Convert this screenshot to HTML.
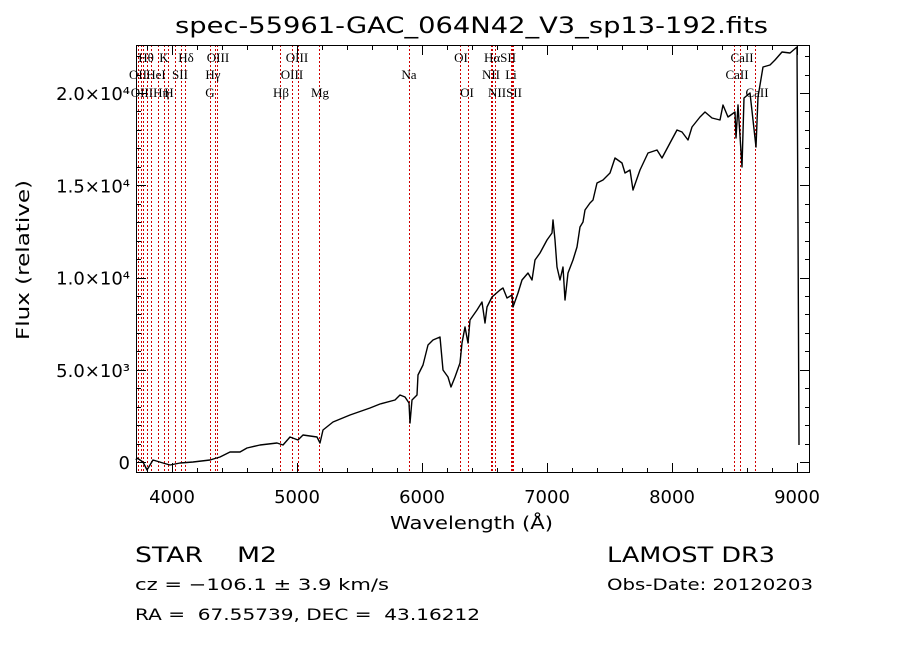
<!DOCTYPE html>
<html><head><meta charset="utf-8"><style>
html,body{margin:0;padding:0;background:#fff;}
svg text{font-family:"DejaVu Sans","Liberation Sans",sans-serif;fill:#000;white-space:pre;}
.ser{font-family:"Liberation Serif","DejaVu Serif",serif;}
</style></head><body>
<svg id="chart" width="900" height="649" viewBox="0 0 900 649" xmlns="http://www.w3.org/2000/svg" xml:space="preserve">
<rect width="900" height="649" fill="#fff"/>
<text x="175" y="33" font-size="22" textLength="593" lengthAdjust="spacingAndGlyphs">spec-55961-GAC_064N42_V3_sp13-192.fits</text>
<g id="lines"></g>
<g id="labels"></g>
<polyline id="spec" fill="none" stroke="#000" stroke-width="1.4" stroke-linejoin="round"/>
<rect x="136.5" y="45.5" width="673" height="427" fill="none" stroke="#000" stroke-width="1"/>
<g id="axes"></g>
<text x="390" y="529" font-size="18" textLength="163" lengthAdjust="spacingAndGlyphs">Wavelength (Å)</text>
<text transform="translate(29,340) rotate(-90)" font-size="18" textLength="160" lengthAdjust="spacingAndGlyphs">Flux (relative)</text>
<text x="135" y="562" font-size="21" textLength="142" lengthAdjust="spacingAndGlyphs">STAR    M2</text>
<text x="607" y="562" font-size="21" textLength="168" lengthAdjust="spacingAndGlyphs">LAMOST DR3</text>
<text x="135" y="590" font-size="16" textLength="254" lengthAdjust="spacingAndGlyphs">cz = −106.1 ± 3.9 km/s</text>
<text x="607" y="590" font-size="16" textLength="206" lengthAdjust="spacingAndGlyphs">Obs-Date: 20120203</text>
<text x="135" y="620" font-size="16" textLength="345" lengthAdjust="spacingAndGlyphs">RA =  67.55739, DEC =  43.16212</text>
</svg>
<script>
const wavelengths=[3712,3720,3768,3800,3848,3928,3984,4064,4168,4304,4384,4464,4544,4600,4704,4840,4888,4944,5008,5048,5160,5184,5208,5288,5424,5584,5664,5784,5824,5864,5896,5904,5920,5960,5968,6008,6048,6088,6144,6168,6208,6232,6264,6304,6320,6344,6368,6384,6440,6480,6504,6520,6560,6624,6648,6680,6720,6728,6768,6800,6848,6880,6904,6944,7000,7040,7048,7064,7080,7104,7128,7144,7168,7208,7240,7264,7288,7304,7344,7368,7400,7448,7504,7544,7600,7624,7664,7688,7744,7808,7880,7920,7984,8040,8080,8128,8160,8224,8264,8320,8384,8408,8448,8504,8512,8528,8560,8576,8624,8672,8688,8728,8784,8824,8880,8944,9000,9008,9016];
const fluxes=[108,217,0,-434,108,-54,-163,-54,0,108,271,542,542,759,921,1030,921,1355,1192,1463,1355,1030,1734,2168,2547,2927,3144,3360,3631,3523,3198,2114,3360,3631,4715,5257,6341,6612,6775,4986,4607,4065,4607,5366,6450,7317,6450,7696,8238,8672,7534,8401,8943,9322,9431,8889,9051,8401,9160,9864,10244,9864,10948,11328,12032,12412,13116,12032,10569,9864,10569,8780,10244,10948,11653,12737,13008,13658,14038,14200,15122,15284,15664,16477,16206,15664,15826,14742,15826,16748,16910,16477,17290,17994,17886,17452,18157,18699,18970,18645,18536,19349,18699,18970,17561,19349,15989,19729,20000,17073,19783,21409,21517,21788,22222,22168,22493,12737,921];
const lineWaves=[3727,3750,3771,3797,3835,3889,3934,3969,4026,4072,4102,4305,4341,4363,4861,4959,5007,5175,5894,6300,6364,6548,6563,6583,6708,6716,6731,8498,8542,8662];
const lineLabels=[["Hθ",146,57],["K",164,57],["Hδ",186,57],["OIII",218,57],["OIII",297,57],["OI",461,57],["HαSII",500,57],["CaII",742,57],
["OII",138,74],["HeI",156,74],["SII",180,74],["Hγ",213,74],["OIII",292,74],["Na",409,74],["NII",491,74],["Li",511,74],["CaII",737,74],
["OIIIHη",150,92],["H",169,92],["G",210,92],["Hβ",281,92],["Mg",320,92],["OI",467,92],["NIISII",505,92],["CaII",757,92]];
const xTicks=[4000,5000,6000,7000,8000,9000];
const yTicks=[0,5000,10000,15000,20000];
const yTickLabels=["0","5.0×10³","1.0×10⁴","1.5×10⁴","2.0×10⁴"];
const X0=136,X1=810,Y0=45,Y1=473;
const xs=w=>172+(w-4000)*0.125;
const ys=f=>462-f*0.01845;
const NS="http://www.w3.org/2000/svg";
function mk(t,a,p){const e=document.createElementNS(NS,t);for(const k in a)e.setAttribute(k,a[k]);p.appendChild(e);return e;}
const gl=document.getElementById('lines');
lineWaves.forEach(w=>{const x=Math.round(xs(w))+0.5;const l=mk('line',{x1:x,x2:x,y1:Y0,y2:Y1,stroke:'#d00000','stroke-width':1,'stroke-dasharray':'2,2'},gl);

});
const glab=document.getElementById('labels');
lineLabels.forEach(d=>{const t=mk('text',{x:d[1],y:d[2]+5,'font-size':13,'text-anchor':'middle',class:'ser'},glab);t.textContent=d[0];

});
document.getElementById('spec').setAttribute('points',wavelengths.map((w,i)=>xs(w).toFixed(1)+','+ys(fluxes[i]).toFixed(1)).join(' '));
const ga=document.getElementById('axes');
for(let w=3800;w<=9100;w+=200){const x=Math.round(xs(w))+0.5;if(x<X0||x>X1)continue;const maj=w%1000===0;const L=maj?10:5;
mk('line',{x1:x,x2:x,y1:Y1,y2:Y1-L,stroke:'#000'},ga);mk('line',{x1:x,x2:x,y1:Y0,y2:Y0+L,stroke:'#000'},ga);}
xTicks.forEach(w=>{const t=mk('text',{x:xs(w),y:503,'font-size':18,'text-anchor':'middle'},ga);t.textContent=String(w);

});
for(let f=0;f<=22000;f+=1000){const y=Math.round(ys(f))+0.5;if(y<Y0)continue;const maj=f%5000===0;const L=maj?10:5;
mk('line',{x1:X0,x2:X0+L,y1:y,y2:y,stroke:'#000'},ga);mk('line',{x1:X1,x2:X1-L,y1:y,y2:y,stroke:'#000'},ga);}
yTicks.forEach((f,i)=>{const t=mk('text',{x:130,y:ys(f)+7,'font-size':18,'text-anchor':'end'},ga);t.textContent=yTickLabels[i];

});
</script>
</body></html>
